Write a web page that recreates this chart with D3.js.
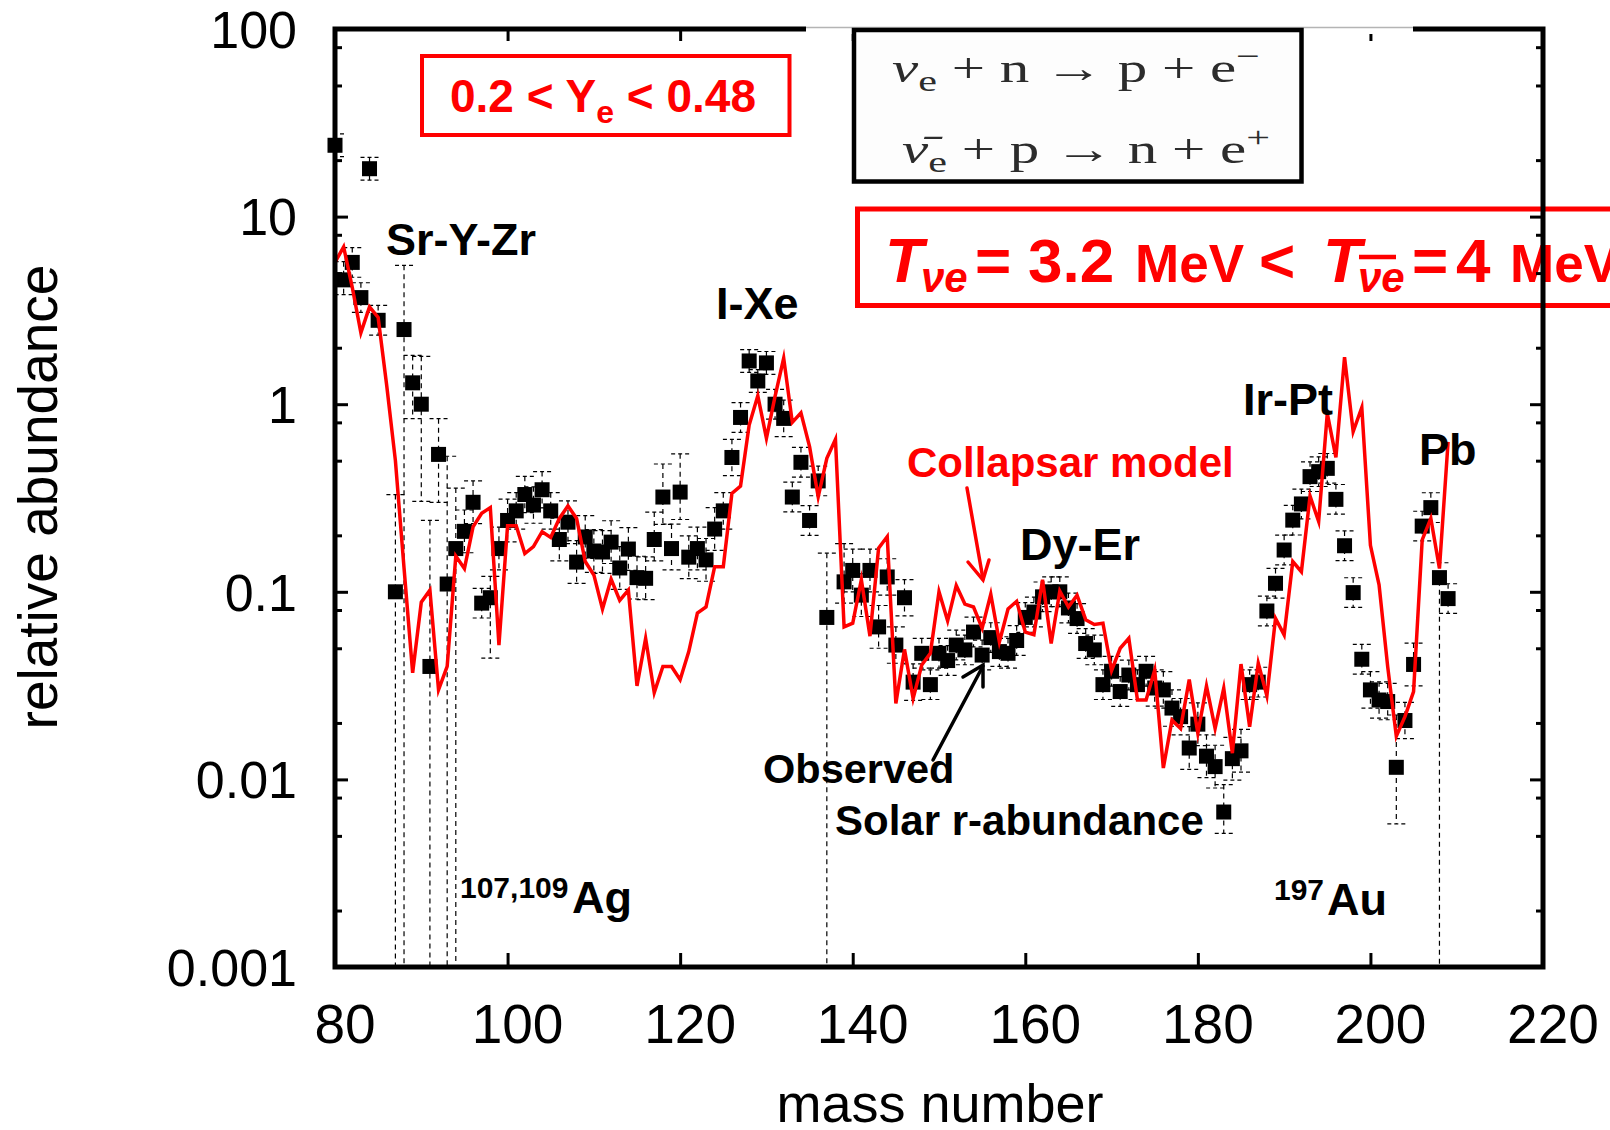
<!DOCTYPE html>
<html>
<head>
<meta charset="utf-8">
<script src="https://cdn.jsdelivr.net/npm/d3@7"></script>
<style>
  body { margin: 0; background: #fff; }
  svg { display: block; font-family: Arial, "Liberation Sans", sans-serif; }
</style>
</head>
<body>
<svg id="svg" width="1610" height="1130"></svg>
<script>
// ---- data ----
// observed solar r-abundance (black squares)
var massA = [80,81,82,83,84,85,
  87,88,89,90,91,92,93,94,95,96,
  97,98,99,100,101,102,103,104,105,106,
  107,108,109,110,111,112,113,114,115,116,
  117,118,119,120,121,122,123,124,125,126,
  127,128,129,130,131,132,133,134,135,136,
  137,
  139,140,141,142,143,144,145,146,147,148,149,
  150,151,152,153,154,155,156,157,158,159,
  160,161,162,163,164,165,166,167,168,169,
  170,171,172,173,174,175,176,177,178,179,
  180,181,182,183,184,185,186,187,188,189,
  190,191,192,193,194,195,196,197,198,199,
  200,201,202,203,204,205,206,207,208,209];
var solarR = [24,4.6,5.7,3.7,18,2.8,
  0.1,2.5,1.3,1.0,0.04,0.54,0.11,0.17,0.21,0.30,
  0.087,0.093,0.17,0.24,0.27,0.33,0.29,0.35,0.27,0.19,
  0.235,0.144,0.196,0.165,0.163,0.184,0.134,0.169,0.119,0.118,
  0.19,0.32,0.17,0.34,0.153,0.17,0.148,0.216,0.27,0.52,
  0.85,1.7,1.33,1.66,1.0,0.84,0.32,0.49,0.24,0.39,
  0.073,
  0.113,0.13,0.096,0.13,0.065,0.12,0.052,0.093,0.033,0.047,0.032,
  0.047,0.043,0.052,0.049,0.061,0.046,0.057,0.048,0.047,0.055,
  0.073,0.078,0.094,0.1,0.1,0.082,0.072,0.053,0.049,0.032,
  0.0377,0.0294,0.036,0.032,0.0377,0.0307,0.030,0.024,0.0216,0.0147,
  0.0197,0.0133,0.0117,0.0067,0.0129,0.0142,0.032,0.033,0.079,0.111,
  0.167,0.241,0.294,0.411,0.437,0.455,0.311,0.176,0.099,0.0437,
  0.030,0.0265,0.026,0.0116,0.0206,0.041,0.224,0.281,0.119,0.092];
// error bar factors (upper = value*up, lower = value/down, 0 = runs off the bottom)
var errUp = [1.15,1.25,1.2,1.2,1.15,1.2,
  3.3,2.2,1.4,1.8,6.0,1.55,4.8,2.1,1.3,1.3,
  1.2,1.3,1.3,1.3,1.25,1.25,1.25,1.25,1.25,1.3,
  1.3,1.3,1.3,1.3,1.3,1.3,1.3,1.3,1.3,1.3,
  1.4,1.5,1.35,1.6,1.3,1.3,1.3,1.3,1.25,1.25,
  1.2,1.15,1.15,1.15,1.2,1.25,1.2,1.2,1.2,1.2,
  2.2,
  1.6,1.3,1.3,1.3,1.3,1.25,1.25,1.25,1.25,1.2,1.2,
  1.2,1.2,1.2,1.2,1.2,1.2,1.2,1.2,1.2,1.2,
  1.2,1.2,1.2,1.2,1.2,1.2,1.2,1.2,1.2,1.2,
  1.2,1.2,1.2,1.2,1.2,1.25,1.25,1.25,1.25,1.3,
  1.3,1.3,1.3,1.4,1.3,1.3,1.2,1.2,1.2,1.2,
  1.2,1.2,1.2,1.2,1.2,1.2,1.2,1.2,1.2,1.2,
  1.25,1.25,1.25,1.9,1.25,1.3,1.2,1.2,1.2,1.2];
var errDown = [1.15,1.2,1.2,1.2,1.15,1.2,
  0,0,1.55,3.3,0,1.8,0,0,1.3,1.3,
  1.2,2.1,1.3,1.3,1.25,1.25,1.25,1.25,1.25,1.3,
  1.3,1.3,1.3,1.3,1.3,1.3,1.3,1.3,1.3,1.3,
  1.3,1.4,1.3,1.4,1.3,1.3,1.3,1.3,1.25,1.25,
  1.2,1.15,1.15,1.15,1.2,1.25,1.2,1.2,1.2,1.2,
  0,
  1.3,1.3,1.3,1.3,1.3,1.25,1.25,1.25,1.25,1.2,1.2,
  1.2,1.2,1.2,1.2,1.2,1.2,1.2,1.2,1.2,1.2,
  1.2,1.2,1.2,1.2,1.2,1.2,1.2,1.2,1.2,1.2,
  1.2,1.2,1.2,1.2,1.2,1.25,1.25,1.25,1.25,1.3,
  1.3,1.3,1.3,1.3,1.3,1.3,1.2,1.2,1.2,1.2,
  1.2,1.2,1.2,1.2,1.2,1.2,1.2,1.2,1.2,1.2,
  1.25,1.25,1.25,2.0,1.25,1.3,1.2,1.2,0,1.2];

// collapsar model (red line), A = 80 ... 209
var modelA = d3.range(80, 210);
var collapsar = [5.7,6.9,4.2,2.4,3.3,2.9,1.25,0.5,0.134,0.037,
  0.088,0.102,0.030,0.040,0.155,0.133,0.222,0.262,0.281,0.052,
  0.225,0.225,0.160,0.174,0.209,0.195,0.246,0.287,0.246,0.145,
  0.123,0.081,0.117,0.090,0.102,0.0315,0.0565,0.029,0.040,0.040,
  0.034,0.048,0.077,0.083,0.136,0.136,0.335,0.366,0.774,1.11,
  0.658,1.1,1.76,0.80,0.90,0.594,0.321,0.515,0.65,0.065,
  0.068,0.116,0.058,0.171,0.197,0.0254,0.0493,0.027,0.0407,0.047,
  0.100,0.070,0.108,0.086,0.083,0.064,0.097,0.054,0.081,0.089,
  0.061,0.059,0.116,0.053,0.101,0.083,0.096,0.071,0.067,0.068,
  0.038,0.050,0.0565,0.0265,0.0265,0.0383,0.0115,0.0207,0.0187,0.0341,
  0.0176,0.0315,0.0187,0.0306,0.0138,0.0412,0.0191,0.0416,0.0279,0.0722,
  0.0589,0.145,0.128,0.324,0.237,0.893,0.521,1.78,0.714,0.96,
  0.177,0.109,0.0399,0.017,0.0216,0.0294,0.189,0.246,0.133,0.63];

var xTicks = [80,100,120,140,160,180,200,220];
var yTicks = [0.001,0.01,0.1,1,10,100];
var yTickLabels = ["0.001","0.01","0.1","1","10","100"];
var yMinorMult = [2,5,8];

// ---- layout ----
var svg = d3.select("svg");
var pL = 335, pR = 1543, pT = 29, pB = 967;
var red = "#ff0000";

var x = d3.scaleLinear().domain([80,220]).range([pL,pR]);
var y = d3.scaleLog().domain([0.001,100]).range([pB,pT]);

var obs = massA.map(function(a,i){
  return {a:a, v:solarR[i], hi:solarR[i]*errUp[i], lo:errDown[i] ? solarR[i]/errDown[i] : 1e-4};
});
var model = modelA.map(function(a,i){ return {a:a, v:collapsar[i]}; });

svg.append("clipPath").attr("id","plot").append("rect")
  .attr("x",pL).attr("y",pT).attr("width",pR-pL).attr("height",pB-pT);
var gData = svg.append("g").attr("clip-path","url(#plot)");

// error bars (dashed)
gData.selectAll("line.err").data(obs).enter().append("line")
  .attr("class","err")
  .attr("x1",function(d){return x(d.a);}).attr("x2",function(d){return x(d.a);})
  .attr("y1",function(d){return y(d.hi);}).attr("y2",function(d){return y(d.lo);})
  .attr("stroke","#000").attr("stroke-width",1.2).attr("stroke-dasharray","5,4");
gData.selectAll("line.capHi").data(obs).enter().append("line")
  .attr("x1",function(d){return x(d.a)-9;}).attr("x2",function(d){return x(d.a)+9;})
  .attr("y1",function(d){return y(d.hi);}).attr("y2",function(d){return y(d.hi);})
  .attr("stroke","#000").attr("stroke-width",1.2).attr("stroke-dasharray","4,3");
gData.selectAll("line.capLo").data(obs.filter(function(d){return d.lo > 0.001;})).enter().append("line")
  .attr("x1",function(d){return x(d.a)-9;}).attr("x2",function(d){return x(d.a)+9;})
  .attr("y1",function(d){return y(d.lo);}).attr("y2",function(d){return y(d.lo);})
  .attr("stroke","#000").attr("stroke-width",1.2).attr("stroke-dasharray","4,3");

// squares
svg.append("g").selectAll("rect").data(obs).enter().append("rect")
  .attr("x",function(d){return x(d.a)-7.5;}).attr("y",function(d){return y(d.v)-7.5;})
  .attr("width",15).attr("height",15).attr("fill","#000");

// model line
var line = d3.line().x(function(d){return x(d.a);}).y(function(d){return y(d.v);});
svg.append("path").datum(model).attr("d",line)
  .attr("fill","none").attr("stroke",red).attr("stroke-width",3.5)
  .attr("stroke-linejoin","miter").attr("stroke-miterlimit",6);

// ---- annotations ----
function label(t, px, py, size, color){
  return svg.append("text").attr("x",px).attr("y",py)
    .style("font-size",size+"px").style("font-weight","bold")
    .attr("fill",color || "#000").text(t);
}
label("Sr-Y-Zr", 386, 255, 45);
label("I-Xe", 716, 319, 45);
label("Dy-Er", 1020, 560, 45);
label("Ir-Pt", 1243, 415, 45);
label("Pb", 1419, 465, 45);
label("107,109", 460, 898, 30);
label("Ag", 572, 913, 45);
label("197", 1274, 900, 30);
label("Au", 1327, 915, 45);
label("Collapsar model", 907, 477, 42, red);
label("Observed", 763, 783, 41.5);
label("Solar r-abundance", 835, 835, 42);

// arrows
function arrow(pts, head, color){
  var g = svg.append("g").attr("stroke",color).attr("stroke-width",3.5).attr("fill","none")
    .attr("stroke-linecap","round");
  g.append("line").attr("x1",pts[0][0]).attr("y1",pts[0][1]).attr("x2",pts[1][0]).attr("y2",pts[1][1]);
  g.append("polyline").attr("points",head.map(function(p){return p.join(",");}).join(" "));
}
arrow([[967,488],[983,579]], [[968,562],[983,580],[989,560]], red);
arrow([[933,760],[983,666]], [[963,677],[983,665],[983,687]], "#000");

// red box 1 : 0.2 < Ye < 0.48
svg.append("rect").attr("x",422).attr("y",56).attr("width",367.5).attr("height",79)
  .attr("fill","none").attr("stroke",red).attr("stroke-width",4);
var t1 = svg.append("text").attr("x",450).attr("y",112).attr("fill",red)
  .style("font-size","46px").style("font-weight","bold");
t1.append("tspan").text("0.2 < Y");
t1.append("tspan").attr("dy",11).style("font-size","32px").text("e");
t1.append("tspan").attr("dy",-11).text(" < 0.48");

// red box 2 : temperatures
svg.append("rect").attr("x",857.5).attr("y",209).attr("width",900).attr("height",96.5)
  .attr("fill","none").attr("stroke",red).attr("stroke-width",5);
function rtext(t, px, py, size, italic){
  return svg.append("text").attr("x",px).attr("y",py).attr("fill",red)
    .style("font-size",size+"px").style("font-weight","bold")
    .style("font-style",italic ? "italic" : "normal").text(t);
}
rtext("T", 885, 282, 63, true);
rtext("\u03bde", 921, 292, 42, true);
rtext("=", 975, 282, 62);
rtext("3.2", 1028, 282, 62);
rtext("MeV", 1135, 282, 53);
rtext("<", 1259, 282, 62);
rtext("T", 1323, 282, 63, true);
rtext("\u03bde", 1358, 292, 42, true);
svg.append("line").attr("x1",1359).attr("x2",1396).attr("y1",257).attr("y2",257)
  .attr("stroke",red).attr("stroke-width",4.5);
rtext("=", 1412, 282, 62);
rtext("4", 1456, 282, 62);
rtext("MeV", 1510, 282, 53);

// ---- frame and ticks ----
svg.append("rect").attr("x",pL).attr("y",pT).attr("width",pR-pL).attr("height",pB-pT)
  .attr("fill","none").attr("stroke","#000").attr("stroke-width",5);

function ticks(axis, tx, ty, values, size){
  var g = svg.append("g").attr("transform","translate("+tx+","+ty+")")
    .call(axis.tickValues(values).tickSize(size).tickSizeOuter(0).tickFormat(""));
  g.select(".domain").remove();
  g.selectAll(".tick line").attr("stroke","#000").attr("stroke-width",3);
}
var innerX = xTicks.slice(1, -1);
var yMinor = [];
yTicks.slice(0, -1).forEach(function(d){ yMinorMult.forEach(function(m){ yMinor.push(d*m); }); });
ticks(d3.axisBottom(x), 0, pB, innerX, -14);
ticks(d3.axisTop(x), 0, pT, innerX, -12);
ticks(d3.axisLeft(y), pL, 0, yTicks, -13);
ticks(d3.axisLeft(y), pL, 0, yMinor, -7);
ticks(d3.axisRight(y), pR, 0, yTicks, -13);
ticks(d3.axisRight(y), pR, 0, yMinor, -7);

// pasted reaction box (covers part of the top frame)
svg.append("rect").attr("x",806).attr("y",23).attr("width",607).attr("height",11).attr("fill","#fff");
svg.append("line").attr("x1",806).attr("x2",1413).attr("y1",27.5).attr("y2",27.5)
  .attr("stroke","#b4b4b4").attr("stroke-width",1.5);
svg.append("rect").attr("x",854).attr("y",30).attr("width",447.5).attr("height",151.5)
  .attr("fill","#fdfdfd").attr("stroke","#000").attr("stroke-width",4.5);

function reaction(parts, x0, base, width){
  var t = svg.append("text").attr("y",base).attr("fill","#2c2c2c")
    .style("font-family","'Liberation Serif','DejaVu Serif',serif").style("font-size","42px");
  parts.forEach(function(p){
    var s = t.append("tspan").text(p[0]);
    if (p[1]) s.style("font-style","italic");
    if (p[2]) s.attr("dy",p[2]);
    if (p[3]) s.style("font-size",p[3]+"px");
  });
  var bb = t.node().getBBox();
  var sx = width / bb.width;
  t.attr("transform","translate("+x0+",0) scale("+sx+",1) translate("+(-bb.x)+",0)");
}
reaction([["\u03bd",1],["e",0,9,30],[" + n \u2192 p + e",0,-9],["\u2212",0,-16,30]], 892, 82, 368);
reaction([["\u03bd\u0304",1],["e",0,9,30],[" + p \u2192 n + e",0,-9],["+",0,-16,30]], 902, 163, 368);

// ---- tick labels and titles ----
svg.append("g").selectAll("text").data(yTicks).enter().append("text")
  .attr("x",297).attr("y",function(d){return y(d);}).attr("dy","0.36em")
  .attr("text-anchor","end").style("font-size","52px")
  .text(function(d,i){return yTickLabels[i];});
svg.append("g").selectAll("text").data(xTicks).enter().append("text")
  .attr("x",function(d){return x(d)+10;}).attr("y",1043)
  .attr("text-anchor","middle").style("font-size","55px")
  .text(function(d){return d;});

svg.append("text").attr("x",940).attr("y",1122).attr("text-anchor","middle")
  .style("font-size","54px").text("mass number");
svg.append("text").attr("transform","translate(57,497) rotate(-90)")
  .attr("text-anchor","middle").style("font-size","55px").text("relative abundance");
</script>
</body>
</html>
